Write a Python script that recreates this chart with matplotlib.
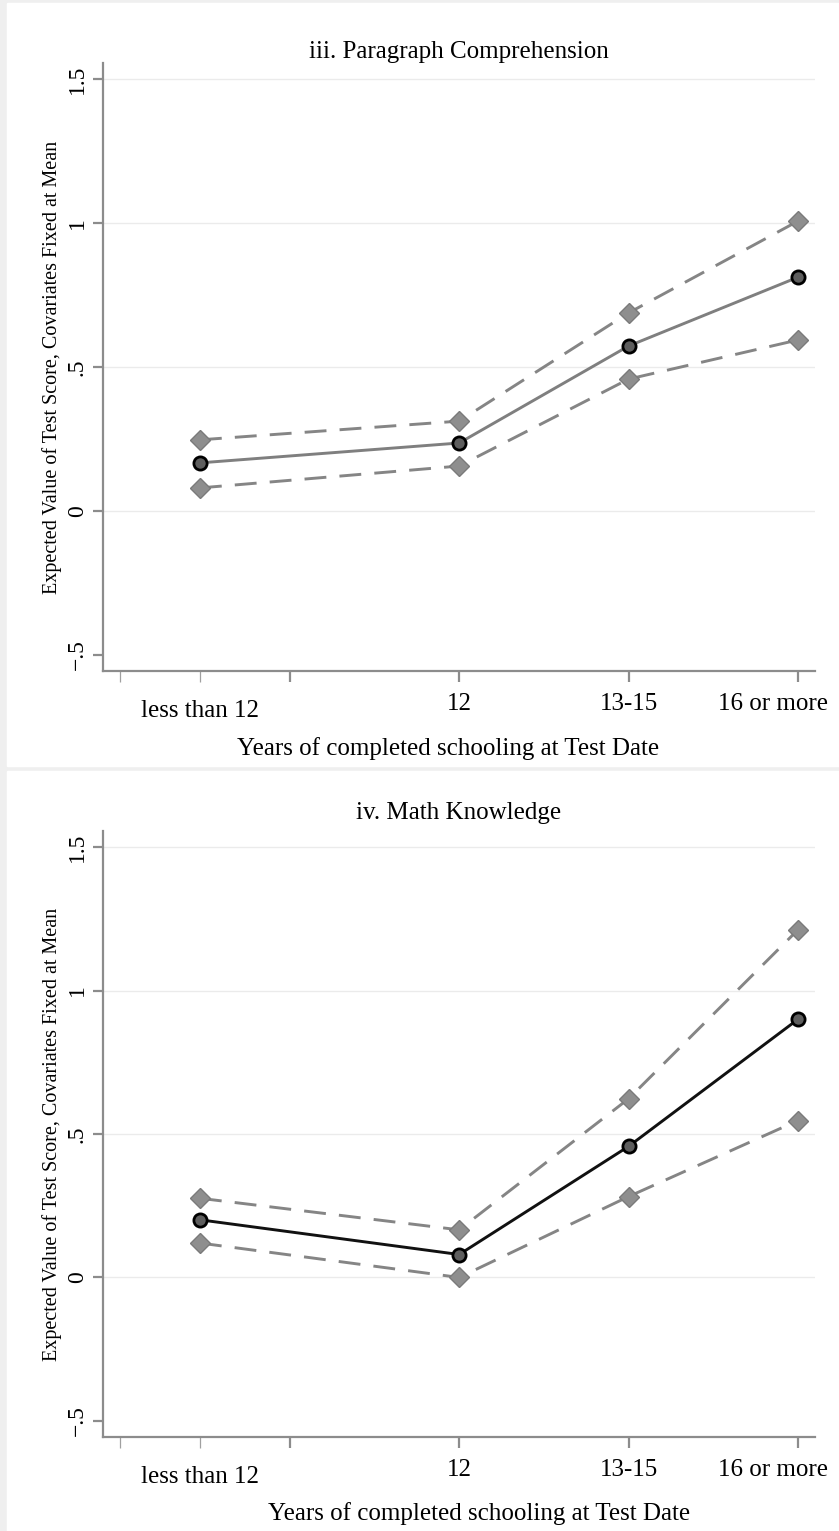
"""Expected test scores by years of completed schooling.

Two stacked panels (paragraph comprehension, math knowledge), each with a
point estimate line and dashed upper / lower confidence bounds.
"""

import matplotlib
import matplotlib.pyplot as plt
from matplotlib.patches import Rectangle
from matplotlib.transforms import ScaledTranslation

matplotlib.use("Agg")

plt.rcParams["font.family"] = ["Liberation Serif", "DejaVu Serif"]

# ── Data ────────────────────────────────────────────────────────────

categories = ["less than 12", "12", "13-15", "16 or more"]
cat_x = [10.47, 12, 13, 14]

para_est = [0.167, 0.236, 0.573, 0.812]
para_hi = [0.247, 0.312, 0.688, 1.007]
para_lo = [0.080, 0.156, 0.458, 0.594]

math_est = [0.201, 0.080, 0.457, 0.900]
math_hi = [0.276, 0.166, 0.623, 1.212]
math_lo = [0.120, 0.000, 0.282, 0.547]

y_ticks = [-0.5, 0, 0.5, 1, 1.5]
y_ticklabels = ["\u2212.5", "0", ".5", "1", "1.5"]

XLABEL = "Years of completed schooling at Test Date"
YLABEL = "Expected Value of Test Score, Covariates Fixed at Mean"

AXIS_GRAY = "#8c8c8c"
CI_GRAY = "#858585"


def _panel(fig, ax, title, est, hi, lo, est_color, title_pad, xlab_x):
    """Draw one panel: estimate line plus dashed CI bounds."""
    for bound in (hi, lo):
        ax.plot(
            cat_x, bound,
            color=CI_GRAY, linewidth=2.1, dashes=(7.5, 4.5),
            marker="D", markersize=10.5,
            markerfacecolor="#8e8e8e", markeredgecolor="#7a7a7a",
            markeredgewidth=1.0, zorder=3,
        )
    ax.plot(
        cat_x, est,
        color=est_color, linewidth=2.1,
        marker="o", markersize=9.5, markerfacecolor="#5e5e5e",
        markeredgecolor="black", markeredgewidth=2.0, zorder=4,
    )

    ax.set_xlim(9.898, 14.1)
    ax.set_ylim(-0.556, 1.556)

    # y axis
    ax.set_yticks(y_ticks, labels=y_ticklabels)
    for lab in ax.get_yticklabels():
        lab.set_rotation(90)
        lab.set_va("center")
    ax.tick_params(axis="y", length=7, width=1.6, color=AXIS_GRAY,
                   labelsize=17, pad=4)
    ax.grid(axis="y", color="#ebebeb", linewidth=1.0)
    ax.yaxis.get_gridlines()[0].set_visible(False)

    # x axis: plain ticks at 11..14, thin ticks for the first category
    ax.set_xticks([11, 12, 13, 14], labels=["", "12", "13-15", "16 or more"])
    ax.set_xticks([10, cat_x[0]], labels=["", categories[0]], minor=True)
    ax.tick_params(axis="x", which="major", length=8, width=1.6,
                   color=AXIS_GRAY, labelsize=18, pad=8)
    ax.tick_params(axis="x", which="minor", length=8, width=0.9,
                   color="#a0a0a0", labelsize=18, pad=13)
    # last label is pulled in so it stays inside the panel
    last = ax.get_xticklabels()[-1]
    last.set_transform(last.get_transform()
                       + ScaledTranslation(-0.25, 0, fig.dpi_scale_trans))

    for side in ("top", "right"):
        ax.spines[side].set_visible(False)
    for side in ("left", "bottom"):
        ax.spines[side].set_color(AXIS_GRAY)
        ax.spines[side].set_linewidth(1.6)

    ax.set_title(title, fontsize=18, pad=title_pad)
    ax.set_xlabel(XLABEL, fontsize=18)
    ax.xaxis.set_label_coords(xlab_x, -0.108)
    ax.set_ylabel(YLABEL, fontsize=14.5)
    ax.yaxis.set_label_coords(-0.058, 0.5)


fig = plt.figure(figsize=(8.39, 15.31), dpi=100, facecolor="#efefef")

# white panel backgrounds with a thin grey frame around them
W, H = 839, 1531
fig.patches.append(Rectangle((7 / W, (H - 766) / H), 1, (766 - 3) / H,
                             transform=fig.transFigure, color="white",
                             zorder=-5))
fig.patches.append(Rectangle((7 / W, 0), 1, (H - 771) / H,
                             transform=fig.transFigure, color="white",
                             zorder=-5))

ax_top = fig.add_axes([103 / W, (H - 671) / H, 712 / W, 608 / H])
ax_bot = fig.add_axes([103 / W, (H - 1437) / H, 712 / W, 606 / H])
for ax in (ax_top, ax_bot):
    ax.set_facecolor("none")
    ax.set_zorder(2)

_panel(fig, ax_top, "iii. Paragraph Comprehension", para_est, para_hi,
       para_lo, "#7f7f7f", 3.5, 0.485)
_panel(fig, ax_bot, "iv. Math Knowledge", math_est, math_hi, math_lo,
       "#111111", 9, 0.528)

fig.savefig("out.png", dpi=100, facecolor=fig.get_facecolor())
